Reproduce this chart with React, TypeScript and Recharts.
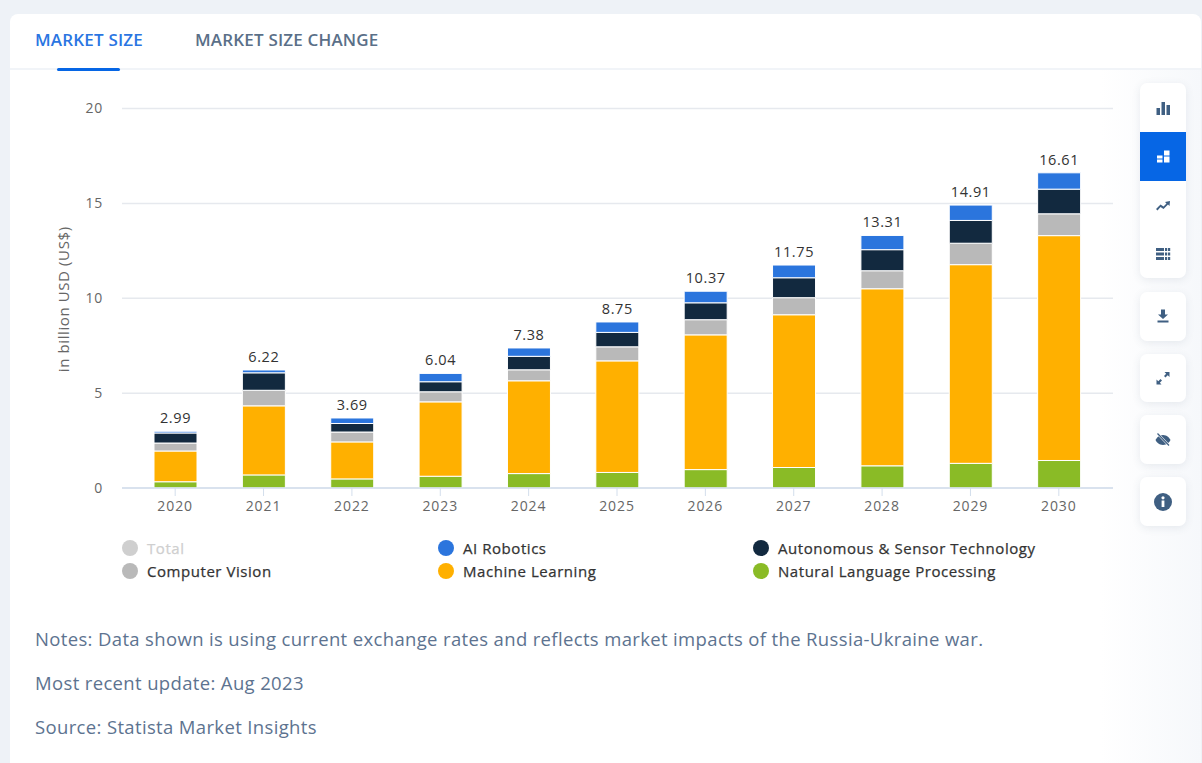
import React from 'react';
import { BarChart, Bar, XAxis, YAxis, CartesianGrid, LabelList } from 'recharts';

const YEARS = ['2020', '2021', '2022', '2023', '2024', '2025', '2026', '2027', '2028', '2029', '2030'];
const NLP = [0.33, 0.69, 0.48, 0.62, 0.76, 0.82, 0.97, 1.08, 1.17, 1.3, 1.45];
const MACHINE_LEARNING = [1.62, 3.64, 1.95, 3.92, 4.89, 5.88, 7.1, 8.05, 9.33, 10.47, 11.85];
const COMPUTER_VISION = [0.42, 0.82, 0.52, 0.53, 0.58, 0.74, 0.8, 0.9, 0.95, 1.13, 1.15];
const AUTONOMOUS = [0.53, 0.92, 0.45, 0.53, 0.71, 0.76, 0.89, 1.05, 1.11, 1.2, 1.3];
const AI_ROBOTICS = [0.09, 0.15, 0.29, 0.44, 0.44, 0.55, 0.61, 0.67, 0.75, 0.81, 0.86];
const TOTALS = [2.99, 6.22, 3.69, 6.04, 7.38, 8.75, 10.37, 11.75, 13.31, 14.91, 16.61];
const Y_TICKS = [0, 5, 10, 15, 20];

const NOTES = [
  'Notes: Data shown is using current exchange rates and reflects market impacts of the Russia-Ukraine war.',
  'Most recent update: Aug 2023',
  'Source: Statista Market Insights',
];

const COLORS = {
  nlp: '#8abb26',
  ml: '#ffb000',
  cv: '#b9b9b9',
  auto: '#12293f',
  robotics: '#2b75dd',
};

const LEGEND = [
  { name: 'Total', color: '#cfcfcf', text: '#cfcfcf', left: 122, top: 537 },
  { name: 'AI Robotics', color: COLORS.robotics, text: '#333', left: 438, top: 537 },
  { name: 'Autonomous & Sensor Technology', color: COLORS.auto, text: '#333', left: 753, top: 537 },
  { name: 'Computer Vision', color: COLORS.cv, text: '#333', left: 122, top: 560 },
  { name: 'Machine Learning', color: COLORS.ml, text: '#333', left: 438, top: 560 },
  { name: 'Natural Language Processing', color: COLORS.nlp, text: '#333', left: 753, top: 560 },
];

const chartData = YEARS.map((year, i) => ({
  year,
  nlp: NLP[i],
  ml: MACHINE_LEARNING[i],
  cv: COMPUTER_VISION[i],
  auto: AUTONOMOUS[i],
  robotics: AI_ROBOTICS[i],
  total: TOTALS[i],
}));

const FONT = '"Open Sans", sans-serif';
const ICON = '#3f5f82';

const IconButton: React.FC<{ top: number; height: number; children?: React.ReactNode }> = ({ top, height, children }) => (
  <div
    style={{
      position: 'absolute',
      left: 1140,
      top,
      width: 46,
      height,
      background: '#fff',
      borderRadius: 7,
      boxShadow: '0 2px 8px rgba(60, 80, 110, 0.1)',
    }}
  >
    {children}
  </div>
);

const Glyph: React.FC<{ top: number; color?: string; children: React.ReactNode }> = ({ top, color = ICON, children }) => (
  <svg
    width={16}
    height={16}
    viewBox="0 0 16 16"
    fill={color}
    stroke="none"
    style={{ position: 'absolute', left: 15, top }}
  >
    {children}
  </svg>
);

const App: React.FC = () => {
  return (
    <div style={{ position: 'absolute', left: 0, top: 0, width: 1202, height: 763, overflow: 'hidden', background: '#eef2f7', fontFamily: FONT }}>
      {/* card */}
      <div style={{ position: 'absolute', left: 10, top: 14, width: 1191, height: 760, background: '#fff', borderRadius: 8 }} />
      <div style={{ position: 'absolute', left: 1100, top: 70, width: 101, height: 693, background: 'linear-gradient(to right, #ffffff, #f6f8fb)' }} />

      {/* tabs */}
      <div style={{ position: 'absolute', left: 10, top: 68, width: 1191, height: 2, background: '#f1f4f8' }} />
      <div style={{ position: 'absolute', left: 35, top: 28, fontSize: 17, letterSpacing: 0.18, fontWeight: 600, color: '#2a75e2', whiteSpace: 'nowrap' }}>MARKET SIZE</div>
      <div style={{ position: 'absolute', left: 195, top: 28, fontSize: 17, letterSpacing: 0.18, fontWeight: 600, color: '#5a6f88', whiteSpace: 'nowrap' }}>MARKET SIZE CHANGE</div>
      <div style={{ position: 'absolute', left: 57, top: 68, width: 63, height: 3, borderRadius: 2, background: '#0666e5' }} />

      <div style={{ position: 'absolute', left: 0, top: 0 }}>
        <BarChart
          width={1202}
          height={530}
          data={chartData}
          margin={{ top: 108.5, right: 89, bottom: 12, left: 52 }}
          barSize={43}
        >
          <CartesianGrid vertical={false} stroke="#e6e9ee" strokeWidth={1.5} />
          <XAxis
            dataKey="year"
            height={30}
            padding={{ left: 9, right: 10 }}
            axisLine={{ stroke: '#d3deec', strokeWidth: 1.5 }}
            tickLine={{ stroke: '#d3deec' }}
            tickSize={8}
            tickMargin={5}
            tick={{ fill: '#666', fontSize: 14, letterSpacing: 0.9, fontFamily: FONT }}
          />
          <YAxis
            width={70}
            domain={[0, 20]}
            ticks={Y_TICKS}
            interval={0}
            axisLine={false}
            tickLine={false}
            tickMargin={13}
            tick={{ fill: '#666', fontSize: 14, letterSpacing: 0.8, fontFamily: FONT }}
            label={{
              value: 'in billion USD (US$)',
              angle: -90,
              position: 'insideLeft',
              offset: 12,
              dy: 1,
              style: { textAnchor: 'middle', fill: '#666', fontSize: 15, letterSpacing: 0.6, fontFamily: FONT },
            }}
          />
          <Bar dataKey="nlp" stackId="a" fill={COLORS.nlp} stroke="#fff" strokeWidth={1} isAnimationActive={false} />
          <Bar dataKey="ml" stackId="a" fill={COLORS.ml} stroke="#fff" strokeWidth={1} isAnimationActive={false} />
          <Bar dataKey="cv" stackId="a" fill={COLORS.cv} stroke="#fff" strokeWidth={1} isAnimationActive={false} />
          <Bar dataKey="auto" stackId="a" fill={COLORS.auto} stroke="#fff" strokeWidth={1} isAnimationActive={false} />
          <Bar dataKey="robotics" stackId="a" fill={COLORS.robotics} stroke="#fff" strokeWidth={1} isAnimationActive={false}>
            <LabelList
              dataKey="total"
              position="top"
              offset={8}
              fill="#333"
              fontSize={14.5}
              fontWeight={500}
              letterSpacing={0.6}
              fontFamily={FONT}
            />
          </Bar>
        </BarChart>
      </div>

      {/* legend */}
      {LEGEND.map((item) => (
        <div key={item.name} style={{ position: 'absolute', left: item.left, top: item.top, height: 22, display: 'flex', alignItems: 'center', whiteSpace: 'nowrap' }}>
          <span style={{ width: 16, height: 16, borderRadius: '50%', background: item.color, marginRight: 9 }} />
          <span style={{ fontSize: 15, fontWeight: 500, letterSpacing: 0.55, WebkitTextStroke: '0.25px', color: item.text }}>{item.name}</span>
        </div>
      ))}

      {/* notes */}
      {NOTES.map((line, i) => (
        <div key={line} style={{ position: 'absolute', left: 35, top: 626 + i * 44, fontSize: 18.5, letterSpacing: 0.35, color: '#5d7390', whiteSpace: 'nowrap' }}>{line}</div>
      ))}

      {/* toolbar */}
      <IconButton top={83} height={195}>
        <Glyph top={17}>
          <rect x="1.5" y="8" width="3.5" height="7" />
          <rect x="6.5" y="2" width="3.5" height="13" />
          <rect x="11.5" y="5" width="3.5" height="10" />
        </Glyph>
        <div style={{ position: 'absolute', left: 0, top: 49, width: 46, height: 49, background: '#0666e5' }}>
          <Glyph top={16} color="#fff">
            <rect x="9" y="2.5" width="5.5" height="5" />
            <rect x="9" y="8.5" width="5.5" height="6" />
            <rect x="2" y="7.5" width="5.5" height="3" />
            <rect x="2" y="11.5" width="5.5" height="3" />
          </Glyph>
        </div>
        <Glyph top={114}>
          <path d="M1 12 L5.5 7.5 L8.5 9.5 L11.5 6.5 L10 5 L15 4 L14.5 9 L13 7.5 L8.5 12 L5.5 10 L2.5 13.5 Z" />
        </Glyph>
        <Glyph top={163}>
          <rect x="1" y="2" width="8" height="3" />
          <rect x="1" y="6.5" width="8" height="3" />
          <rect x="1" y="11" width="8" height="3" />
          <rect x="10" y="2" width="2.2" height="3" />
          <rect x="13" y="2" width="2.2" height="3" />
          <rect x="10" y="6.5" width="2.2" height="3" />
          <rect x="13" y="6.5" width="2.2" height="3" />
          <rect x="10" y="11" width="2.2" height="3" />
          <rect x="13" y="11" width="2.2" height="3" />
        </Glyph>
      </IconButton>
      <IconButton top={292} height={49}>
        <Glyph top={16}>
          <path d="M6 1.5 H10 V6.5 H13 L8 11 L3 6.5 H6 Z" />
          <rect x="2.5" y="12.5" width="11" height="2" />
        </Glyph>
      </IconButton>
      <IconButton top={354} height={48}>
        <Glyph top={16}>
          <path d="M9.5 2 H14.5 V7 L12.7 5.2 L10.5 7.5 L9 6 L11.2 3.8 Z" />
          <path d="M1.5 14.5 V9.5 L3.3 11.3 L5.5 9 L7 10.5 L4.8 12.7 L6.5 14.5 Z" />
        </Glyph>
      </IconButton>
      <IconButton top={415} height={49}>
        <Glyph top={17}>
          <path d="M8 3 C12 3 14.5 6 15.5 8 C14.5 10 12 13 8 13 C4 13 1.5 10 0.5 8 C1.5 6 4 3 8 3 Z" />
          <path d="M2.5 1.5 L14 13.5" stroke="#fff" strokeWidth="2.4" />
          <path d="M2.5 1.5 L14 13.5" stroke={ICON} strokeWidth="1.2" />
        </Glyph>
      </IconButton>
      <IconButton top={477} height={49}>
        <svg width={20} height={20} viewBox="0 0 20 20" style={{ position: 'absolute', left: 13, top: 15 }}>
          <circle cx="10" cy="10" r="9" fill={ICON} />
          <rect x="8.6" y="8.5" width="2.8" height="6.5" fill="#fff" />
          <circle cx="10" cy="5.8" r="1.6" fill="#fff" />
        </svg>
      </IconButton>
    </div>
  );
};

export default App;
